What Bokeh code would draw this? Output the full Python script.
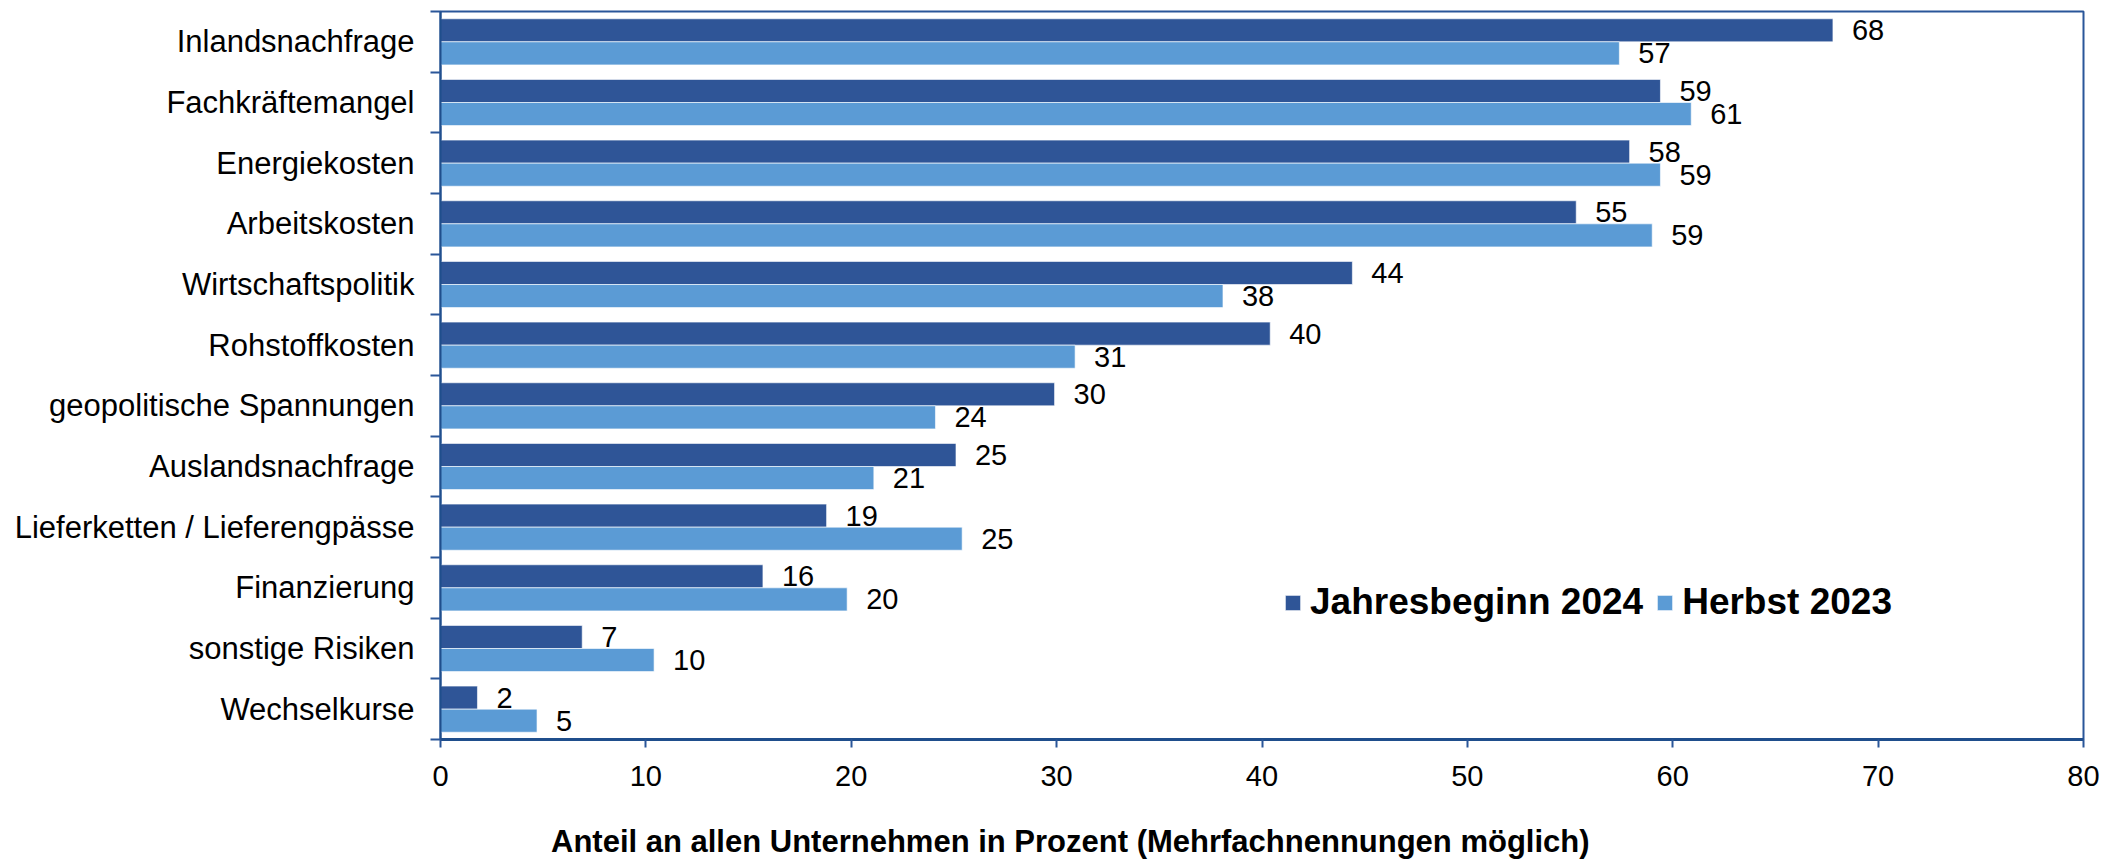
from bokeh.plotting import figure
from bokeh.models import (ColumnDataSource, Range1d, FixedTicker, Legend, LegendItem, Div)
from bokeh.layouts import column
from bokeh.transform import dodge
from bokeh.core.properties import value
from bokeh.embed import file_html
from bokeh.resources import INLINE

# ---- data (top to bottom as in the chart) ----
categories = ["Inlandsnachfrage", "Fachkräftemangel", "Energiekosten", "Arbeitskosten",
              "Wirtschaftspolitik", "Rohstoffkosten", "geopolitische Spannungen",
              "Auslandsnachfrage", "Lieferketten / Lieferengpässe", "Finanzierung",
              "sonstige Risiken", "Wechselkurse"]
jahresbeginn_2024 = [67.8, 59.4, 57.9, 55.3, 44.4, 40.4, 29.9, 25.1, 18.8, 15.7, 6.9, 1.8]
herbst_2023 = [57.4, 60.9, 59.4, 59.0, 38.1, 30.9, 24.1, 21.1, 25.4, 19.8, 10.4, 4.7]
x_ticks = [0, 10, 20, 30, 40, 50, 60, 70, 80]
series_names = ["Jahresbeginn 2024", "Herbst 2023"]
x_title = "Anteil an allen Unternehmen in Prozent (Mehrfachnennungen möglich)"

FONT = "Liberation Sans"
DARK = "#2F5597"
LIGHT = "#5B9BD5"
FRAME = "#2A5699"

n = len(categories)
ypos = [n - 1 - i for i in range(n)]
src = ColumnDataSource(dict(
    y=ypos,
    jb=jahresbeginn_2024,
    hb=herbst_2023,
    jb_lab=[f"{v:.0f}" for v in jahresbeginn_2024],
    hb_lab=[f"{v:.0f}" for v in herbst_2023],
))

p = figure(width=2114, height=819, output_backend="svg", toolbar_location=None,
           x_range=Range1d(x_ticks[0], x_ticks[-1]), y_range=Range1d(-0.5, n - 0.5),
           min_border_left=440, min_border_right=31, min_border_top=11, min_border_bottom=80)
p.background_fill_color = "white"
p.border_fill_color = "white"
p.outline_line_color = FRAME
p.outline_line_width = 2
p.xgrid.visible = False
p.ygrid.visible = False

bw = 0.38
r1 = p.hbar(y=dodge("y", bw / 2, range=p.y_range), left=0, right="jb", height=bw, source=src,
            fill_color=DARK, line_color="white", line_width=1, line_alpha=0.6)
r2 = p.hbar(y=dodge("y", -bw / 2, range=p.y_range), left=0, right="hb", height=bw, source=src,
            fill_color=LIGHT, line_color="white", line_width=1, line_alpha=0.6)

for col, lab, off in (("jb", "jb_lab", bw / 2), ("hb", "hb_lab", -bw / 2)):
    p.text(x=col, y=dodge("y", off, range=p.y_range), text=lab, source=src,
           x_offset=19, text_align="left", text_baseline="middle",
           text_font=value(FONT), text_font_size="29px", text_color="black")

# x axis
xa = p.xaxis[0]
xa.ticker = FixedTicker(ticks=x_ticks)
xa.axis_line_color = "#1F4E8C"
xa.axis_line_width = 3
xa.major_tick_line_color = FRAME
xa.major_tick_line_width = 2
xa.major_tick_out = 8
xa.major_tick_in = 0
xa.minor_tick_line_color = None
xa.major_label_text_font = FONT
xa.major_label_text_font_size = "29px"
xa.major_label_text_color = "black"
xa.major_label_standoff = 18

# y axis: labels at centres, tick marks at category boundaries
ya = p.yaxis[0]
ya.ticker = FixedTicker(ticks=ypos, minor_ticks=[k - 0.5 for k in range(n + 1)])
ya.major_label_overrides = {yv: c for yv, c in zip(ypos, categories)}
ya.axis_line_color = "#1F4E8C"
ya.axis_line_width = 2
ya.major_tick_line_color = None
ya.major_tick_out = 0
ya.major_tick_in = 0
ya.minor_tick_line_color = FRAME
ya.minor_tick_line_width = 2
ya.minor_tick_out = 10
ya.minor_tick_in = 0
ya.major_label_text_font = FONT
ya.major_label_text_font_size = "31px"
ya.major_label_text_color = "black"
ya.major_label_standoff = 16

legend = Legend(items=[LegendItem(label=series_names[0], renderers=[r1]),
                       LegendItem(label=series_names[1], renderers=[r2])],
                location=(843, 116), orientation="horizontal",
                padding=0, margin=0, spacing=12, label_standoff=8,
                glyph_width=19, glyph_height=19, label_height=19,
                label_text_font=FONT, label_text_font_size="37px",
                label_text_font_style="bold", label_text_color="black",
                border_line_color=None, background_fill_alpha=0)
p.add_layout(legend)

# x-axis title as a text block below the chart
title_div = Div(
    text=('<div style="font-family:\'Liberation Sans\',Arial,sans-serif;font-size:31px;'
          'font-weight:bold;color:#000;line-height:37px;white-space:nowrap;margin:0;padding:0;'
          'position:relative;top:4px;left:-4px;">'
          + x_title + '</div>'),
    width=1540, height=40, margin=(0, 0, 0, 555))

layout = column(p, title_div, spacing=0)

with open("out.html", "w", encoding="utf-8") as f:
    f.write(file_html(layout, INLINE))
